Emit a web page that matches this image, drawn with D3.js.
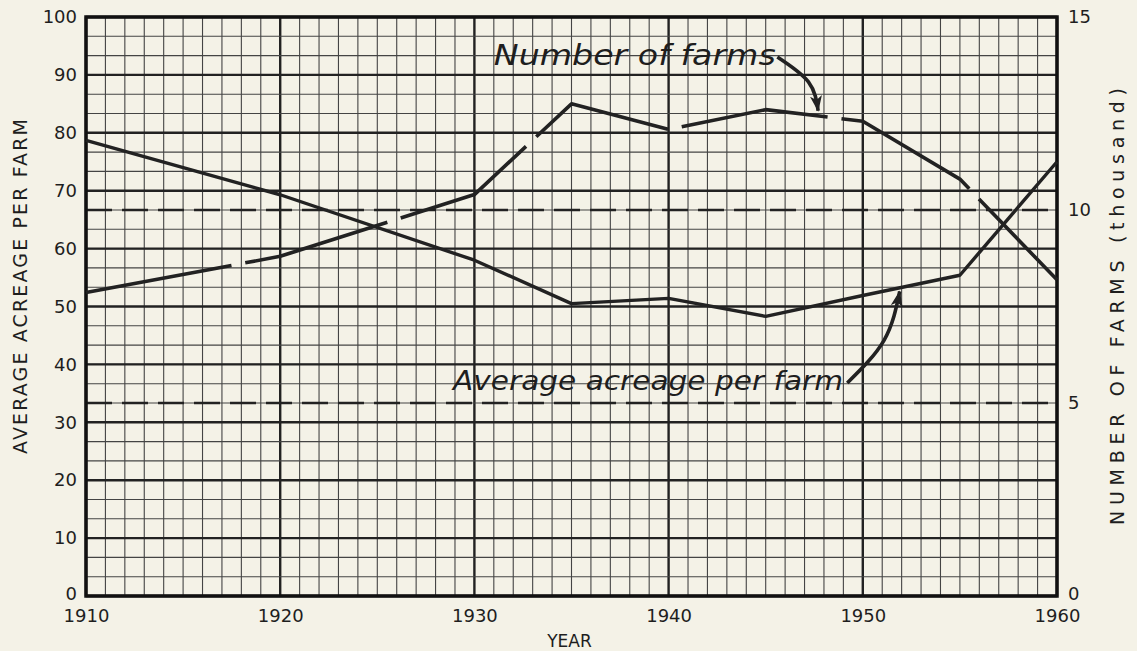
<!DOCTYPE html>
<html>
<head>
<meta charset="utf-8">
<script src="https://cdn.jsdelivr.net/npm/d3@7"></script>
<style>
  body { margin: 0; background: #f4f2e7; }
  svg { display: block; }
  text { font-family: "DejaVu Sans", sans-serif; fill: #1e1e1e; }
</style>
</head>
<body>
<div id="chart"></div>
<script>
// values
const years = [1910, 1920, 1930, 1935, 1940, 1945, 1950, 1955, 1960];
const acreage = [78.7, 69.3, 58.0, 50.5, 51.4, 48.3, 51.9, 55.4, 75.0];   // left axis
const farms = [7.86, 8.8, 10.4, 12.75, 12.09, 12.6, 12.3, 10.8, 8.19];    // thousand, right axis
const xTicks = [1910, 1920, 1930, 1940, 1950, 1960];
const leftTicks = [0, 10, 20, 30, 40, 50, 60, 70, 80, 90, 100];
const rightTicks = [0, 5, 10, 15];

const width = 1137;
const height = 651;
const margin = {top: 17, right: 80, bottom: 55, left: 86};

const svg = d3.select('#chart')
  .append('svg')
    .attr('width', width)
    .attr('height', height);

const x = d3.scaleLinear()
  .domain([1910, 1960])
  .range([margin.left, width - margin.right]);

const y = d3.scaleLinear()
  .domain([0, 100])
  .range([height - margin.bottom, margin.top]);

const yR = d3.scaleLinear()
  .domain([0, 15])
  .range([height - margin.bottom, margin.top]);

const ink = '#222';

// graph paper: a line every year and every half thousand farms
const grid = svg.append('g');
grid.selectAll('.vline')
  .data(d3.range(1910, 1961))
  .join('line')
    .attr('x1', d => x(d)).attr('x2', d => x(d))
    .attr('y1', y(0)).attr('y2', y(100))
    .attr('stroke', d => d % 10 === 0 ? ink : '#444')
    .attr('stroke-width', d => d % 10 === 0 ? 2.4 : 1.1);

grid.selectAll('.hminor')
  .data(d3.range(0, 15.01, 0.5))
  .join('line')
    .attr('y1', d => yR(d)).attr('y2', d => yR(d))
    .attr('x1', x(1910)).attr('x2', x(1960))
    .attr('stroke', '#444')
    .attr('stroke-width', 1.1);

grid.selectAll('.hmajor')
  .data(leftTicks)
  .join('line')
    .attr('y1', d => y(d)).attr('y2', d => y(d))
    .attr('x1', x(1910)).attr('x2', x(1960))
    .attr('stroke', ink)
    .attr('stroke-width', 2.4);

grid.selectAll('.hdash')
  .data([5, 10])
  .join('line')
    .attr('y1', d => yR(d)).attr('y2', d => yR(d))
    .attr('x1', x(1910)).attr('x2', x(1960))
    .attr('stroke', ink)
    .attr('stroke-width', 2.6)
    .attr('stroke-dasharray', '26,10');

svg.append('rect')
  .attr('x', x(1910)).attr('y', y(100))
  .attr('width', x(1960) - x(1910))
  .attr('height', y(0) - y(100))
  .attr('fill', 'none')
  .attr('stroke', '#111')
  .attr('stroke-width', 3.5);

// series
const line = d3.line()
  .x(d => x(d[0]))
  .y(d => d[1]);

svg.append('path')
  .datum(years.map((yr, i) => [yr, y(acreage[i])]))
  .attr('d', line)
  .attr('fill', 'none')
  .attr('stroke', ink)
  .attr('stroke-width', 3.4)
  .attr('stroke-linejoin', 'round');

svg.append('path')
  .datum(years.map((yr, i) => [yr, yR(farms[i])]))
  .attr('d', line)
  .attr('fill', 'none')
  .attr('stroke', ink)
  .attr('stroke-width', 3.6)
  .attr('stroke-linejoin', 'round')
  .attr('stroke-dasharray', '148,14');

// axes
function leftAxis(g) {
  g.attr('transform', `translate(${margin.left},0)`)
    .call(d3.axisLeft(y).tickValues(leftTicks).tickSize(0).tickPadding(9))
    .call(g => g.select('.domain').remove())
    .attr('font-size', 18)
    .attr('font-family', 'DejaVu Sans');
}
function rightAxis(g) {
  g.attr('transform', `translate(${width - margin.right},0)`)
    .call(d3.axisRight(yR).tickValues(rightTicks).tickSize(0).tickPadding(11))
    .call(g => g.select('.domain').remove())
    .attr('font-size', 18)
    .attr('font-family', 'DejaVu Sans');
}
function bottomAxis(g) {
  g.attr('transform', `translate(0,${height - margin.bottom})`)
    .call(d3.axisBottom(x).tickValues(xTicks).tickFormat(d3.format('d')).tickSize(0).tickPadding(13))
    .call(g => g.select('.domain').remove())
    .attr('font-size', 18)
    .attr('font-family', 'DejaVu Sans');
}
const gl = svg.append('g').call(leftAxis);
const gr = svg.append('g').call(rightAxis);
svg.append('g').call(bottomAxis);
svg.selectAll('.tick text').attr('fill', '#1e1e1e');
// the two zeros sit a little above the year labels
gl.selectAll('.tick').filter(d => d === 0).select('text').attr('dy', '0.2em');
gr.selectAll('.tick').filter(d => d === 0).select('text').attr('dy', '0.2em');

// axis titles
svg.append('text')
  .attr('transform', `translate(27,${(y(0) + y(100)) / 2 - 20}) rotate(-90)`)
  .attr('text-anchor', 'middle')
  .attr('font-size', 19)
  .attr('textLength', 335)
  .text('AVERAGE ACREAGE PER FARM');

svg.append('text')
  .attr('transform', `translate(1124,${(y(0) + y(100)) / 2}) rotate(-90)`)
  .attr('text-anchor', 'middle')
  .attr('font-size', 19)
  .attr('textLength', 437)
  .text('NUMBER OF FARMS  (thousand)');

svg.append('text')
  .attr('x', x(1935) - 2)
  .attr('y', height - 4)
  .attr('text-anchor', 'middle')
  .attr('font-size', 17)
  .text('YEAR');

// annotations
svg.append('text')
  .attr('x', x(1931.0))
  .attr('y', y(91.7))
  .attr('font-size', 28)
  .attr('font-style', 'italic')
  .attr('textLength', 282)
  .attr('lengthAdjust', 'spacingAndGlyphs')
  .text('Number  of  farms');

svg.append('text')
  .attr('x', x(1928.9))
  .attr('y', y(35.6))
  .attr('font-size', 27)
  .attr('font-style', 'italic')
  .attr('textLength', 390)
  .attr('lengthAdjust', 'spacingAndGlyphs')
  .text('Average acreage per farm');

svg.append('defs').append('marker')
  .attr('id', 'head')
  .attr('viewBox', '0 0 16 12')
  .attr('refX', 15).attr('refY', 6)
  .attr('markerUnits', 'userSpaceOnUse')
  .attr('markerWidth', 16).attr('markerHeight', 12)
  .attr('orient', 'auto')
  .append('path')
    .attr('d', 'M0,0 L16,6 L0,12 L4,6 Z')
    .attr('fill', ink);

const arrow = d3.line().curve(d3.curveNatural);

svg.append('path')
  .attr('d', arrow([[x(1945.6), y(93.1)], [x(1947.2), y(88.8)], [x(1947.7), y(83.8)]]))
  .attr('fill', 'none')
  .attr('stroke', ink)
  .attr('stroke-width', 3.6)
  .attr('marker-end', 'url(#head)');

svg.append('path')
  .attr('d', arrow([[x(1949.2), y(36.8)], [x(1951.1), y(44.2)], [x(1951.9), y(52.6)]]))
  .attr('fill', 'none')
  .attr('stroke', ink)
  .attr('stroke-width', 3.6)
  .attr('marker-end', 'url(#head)');
</script>
</body>
</html>
